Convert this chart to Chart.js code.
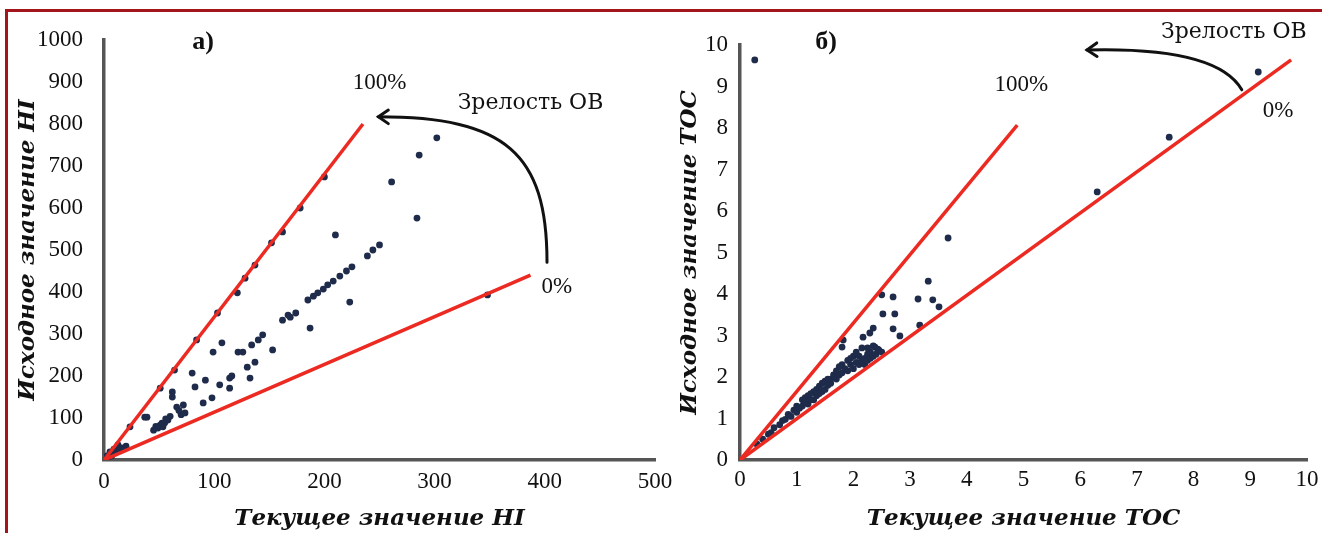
<!DOCTYPE html>
<html lang="ru">
<head>
<meta charset="utf-8">
<script src="https://cdn.jsdelivr.net/npm/chart.js@4"></script>
<style>
  html, body { margin: 0; padding: 0; background: #fff; }
  #wrap { position: relative; width: 1322px; height: 533px; overflow: hidden; }
  #frame { position: absolute; left: 5px; top: 9px; right: -10px; bottom: -10px;
           border-top: 3px solid #a3141b; border-left: 3px solid #a3141b; }
  .pane { position: absolute; top: 0; height: 533px; }
</style>
</head>
<body>
<div id="wrap">
  <div id="frame"></div>
  <div class="pane" style="left:0;width:700px"><canvas id="chart-hi" width="700" height="533"></canvas></div>
  <div class="pane" style="left:660px;width:662px"><canvas id="chart-toc" width="662" height="533"></canvas></div>
</div>
<script>
// ---- данные: а) HI, б) TOC ----
const hiTicks = [0, 100, 200, 300, 400, 500];
const hiYTicks = [0, 100, 200, 300, 400, 500, 600, 700, 800, 900, 1000];
const hiCurrent = [
  2.7, 3.6, 5.4, 7, 9, 11, 12.7, 14.5, 16, 20, 23.6, 37, 39, 51, 64, 84, 103, 121, 128, 137, 152, 162, 178, 200,
  45, 47, 49, 51, 52.6, 53.5, 55, 56, 58, 60, 62, 62, 66, 68, 70, 72, 73.5, 80, 82.6, 90, 92, 98, 99, 105, 107,
  114, 114, 116, 121.6, 126, 130, 132.5, 137, 134, 140, 144, 153, 162, 167, 169, 174, 187, 185, 190, 194, 199,
  203, 208, 214, 220, 225, 223, 210, 239, 244, 250, 261, 284, 286, 302, 348
];
const hiOriginal = [
  9.5, 5, 19, 10, 26, 19, 36, 24, 29, 33, 79, 102, 102, 171, 214, 286, 350, 398, 433, 464, 517, 543, 600, 674,
  71, 80, 76, 83, 88, 79, 88, 98, 95, 104, 162, 150, 126, 118, 108, 131, 112, 207, 174, 136, 190, 148, 257, 179, 279,
  195, 171, 200, 257, 257, 221, 195, 233, 274, 286, 298, 262, 333, 345, 340, 350, 314, 381, 390, 398, 407,
  417, 426, 438, 450, 460, 376, 536, 486, 500, 512, 662, 576, 726, 767, 393
];
const hiLine100 = [[0, 0], [235, 800]];
const hiLine0 = [[0, 0], [387, 440]];

const tocTicks = [0, 1, 2, 3, 4, 5, 6, 7, 8, 9, 10];
const tocCurrent = [
  0.26, 3.67, 6.3, 7.57, 9.14,
  3.32, 2.70, 2.50, 3.14, 3.40, 3.51, 2.52, 2.73, 3.17, 2.70, 2.82, 2.35, 2.29, 2.17, 2.43, 2.38, 1.82, 1.80,
  0.3, 0.4, 0.5, 0.55, 0.6, 0.7, 0.75, 0.8, 0.85, 0.9,
  0.95, 1.0, 1.0, 1.05, 1.1, 1.1, 1.15, 1.2, 1.2, 1.25,
  1.3, 1.3, 1.35, 1.35, 1.4, 1.4, 1.45, 1.45, 1.5, 1.5,
  1.55, 1.6, 1.6, 1.65, 1.7, 1.7, 1.75, 1.8, 1.8, 1.85,
  1.9, 1.9, 1.95, 2.0, 2.0, 2.05, 2.05, 2.1, 2.1, 2.15,
  2.15, 2.2, 2.2, 2.25, 2.25, 2.3, 2.3, 2.35, 2.4, 2.45,
  2.5, 1.25, 1.55, 1.75, 1.95, 2.25, 1.15, 2.35
];
const tocOriginal = [
  9.64, 5.35, 6.46, 7.78, 9.35,
  4.31, 3.93, 3.98, 3.88, 3.86, 3.69, 3.52, 3.52, 3.25, 3.16, 2.99, 3.18, 3.06, 2.96, 2.67, 2.72, 2.89, 2.72,
  0.38, 0.5, 0.62, 0.66, 0.78, 0.85, 0.95, 0.98, 1.1, 1.05,
  1.2, 1.15, 1.3, 1.25, 1.45, 1.3, 1.5, 1.35, 1.55, 1.45,
  1.65, 1.45, 1.7, 1.55, 1.6, 1.78, 1.65, 1.85, 1.7, 1.9,
  1.8, 1.95, 1.85, 2.05, 1.95, 2.15, 2.05, 2.1, 2.3, 2.2,
  2.15, 2.4, 2.3, 2.2, 2.5, 2.35, 2.6, 2.3, 2.5, 2.4,
  2.7, 2.45, 2.3, 2.55, 2.4, 2.6, 2.45, 2.5, 2.55, 2.65,
  2.6, 1.6, 1.95, 2.25, 2.45, 2.7, 1.4, 2.75
];
const tocLine100 = [[0, 0], [4.89, 8.07]];
const tocLine0 = [[0, 0], [9.72, 9.64]];

// подписи и стрелка «Зрелость ОВ» — якоря в единицах данных
const hiNotes = {
  texts: [
    { t: 'а)', x: 90, y: 995, bold: true },
    { t: '100%', x: 250, y: 898 },
    { t: 'Зрелость ОВ', x: 387, y: 850, wide: true },
    { t: '0%', x: 411, y: 412 },
  ],
  arrow: [[402, 471], [402, 731], [364, 817], [249, 817]],
};
const tocNotes = {
  texts: [
    { t: 'б)', x: 1.52, y: 10.07, bold: true },
    { t: '100%', x: 4.96, y: 9.04 },
    { t: 'Зрелость ОВ', x: 8.71, y: 10.31, wide: true },
    { t: '0%', x: 9.49, y: 8.41 },
  ],
  arrow: [[8.85, 8.92], [8.55, 9.64], [7.58, 9.93], [6.12, 9.88]],
};

const RED = '#ec2a22';
const DOT = '#1f2b4a';
const AXIS = '#555';
const SERIF = '"Liberation Serif", "DejaVu Serif", serif';

const pts = (xs, ys) => xs.map((x, i) => ({ x, y: ys[i] }));
const seg = (arr) => arr.map(([x, y]) => ({ x, y }));

const notesPlugin = {
  id: 'notes',
  afterDraw(chart, args, opts) {
    const { ctx, scales: { x, y } } = chart;
    const n = opts.data;
    if (!n) return;
    ctx.save();
    ctx.fillStyle = '#111';
    ctx.textAlign = 'center';
    ctx.textBaseline = 'middle';
    n.texts.forEach(o => {
      ctx.font = o.bold ? 'bold 26px ' + SERIF : (o.wide ? '22px "DejaVu Serif", serif' : '23px ' + SERIF);
      ctx.fillText(o.t, x.getPixelForValue(o.x), y.getPixelForValue(o.y));
    });
    const p = n.arrow.map(([a, b]) => [x.getPixelForValue(a), y.getPixelForValue(b)]);
    ctx.strokeStyle = '#111';
    ctx.lineWidth = 3;
    ctx.lineCap = 'round';
    ctx.beginPath();
    ctx.moveTo(p[0][0], p[0][1]);
    ctx.bezierCurveTo(p[1][0], p[1][1], p[2][0], p[2][1], p[3][0], p[3][1]);
    ctx.stroke();
    // наконечник
    const ang = Math.atan2(p[3][1] - p[2][1], p[3][0] - p[2][0]);
    const L = 12;
    ctx.beginPath();
    ctx.moveTo(p[3][0] - L * Math.cos(ang - 0.6), p[3][1] - L * Math.sin(ang - 0.6));
    ctx.lineTo(p[3][0], p[3][1]);
    ctx.lineTo(p[3][0] - L * Math.cos(ang + 0.6), p[3][1] - L * Math.sin(ang + 0.6));
    ctx.stroke();
    ctx.restore();
  },
};

function makeChart(id, cfg) {
  return new Chart(document.getElementById(id), {
    type: 'scatter',
    data: {
      datasets: [
        { data: seg(cfg.l100), showLine: true, borderColor: RED, borderWidth: 3.5, pointRadius: 0, order: 0 },
        { data: seg(cfg.l0), showLine: true, borderColor: RED, borderWidth: 3.5, pointRadius: 0, order: 0 },
        { data: pts(cfg.xs, cfg.ys), backgroundColor: DOT, borderWidth: 0, pointRadius: 3.4, order: 1 },
      ],
    },
    options: {
      responsive: false,
      animation: false,
      devicePixelRatio: 1,
      layout: { padding: cfg.pad },
      plugins: { legend: { display: false }, tooltip: { enabled: false }, notes: { data: cfg.notes } },
      scales: {
        x: {
          type: 'linear', min: 0, max: cfg.xMax,
          afterBuildTicks: s => { s.ticks = cfg.xTicks.map(v => ({ value: v })); },
          afterFit: s => { s.height = 73; s.paddingLeft = 0; s.paddingRight = 0; },
          grid: { display: false, drawTicks: false },
          border: { color: AXIS, width: 3.5 },
          ticks: { color: '#111', padding: cfg.xPad, font: { family: SERIF, size: 23 }, maxRotation: 0,
                   callback: v => String(v) },
          title: { display: true, text: cfg.xTitle, color: '#111', padding: 0,
                   font: { family: '"DejaVu Serif", serif', size: 23, weight: 'bold', style: 'italic' } },
        },
        y: {
          type: 'linear', min: 0, max: cfg.yMax,
          afterBuildTicks: s => { s.ticks = cfg.yTicks.map(v => ({ value: v })); },
          afterFit: s => { s.width = cfg.yWidth; s.paddingTop = 0; s.paddingBottom = 0; },
          grid: { display: false, drawTicks: false },
          border: { color: AXIS, width: 3.5 },
          ticks: { color: '#111', padding: cfg.yPad, font: { family: SERIF, size: 23 },
                   callback: v => String(v) },
          title: { display: true, text: cfg.yTitle, color: '#111', padding: 0,
                   font: { family: '"DejaVu Serif", serif', size: 23, weight: 'bold', style: 'italic' } },
        },
      },
    },
    plugins: [notesPlugin],
  });
}

makeChart('chart-hi', {
  xs: hiCurrent, ys: hiOriginal, l100: hiLine100, l0: hiLine0, notes: hiNotes,
  xMax: 500, yMax: 1000, xTicks: hiTicks, yTicks: hiYTicks,
  pad: { left: 14, top: 40, right: 45, bottom: 0 }, yWidth: 90, yPad: 21, xPad: 8,
  xTitle: 'Текущее значение HI', yTitle: 'Исходное значение HI',
});

makeChart('chart-toc', {
  xs: tocCurrent, ys: tocOriginal, l100: tocLine100, l0: tocLine0, notes: tocNotes,
  xMax: 10, yMax: 10, xTicks: tocTicks, yTicks: tocTicks,
  pad: { left: 16, top: 45, right: 15, bottom: 0 }, yWidth: 64, yPad: 12, xPad: 6,
  xTitle: 'Текущее значение TOC', yTitle: 'Исходное значение TOC',
});
</script>
</body>
</html>
